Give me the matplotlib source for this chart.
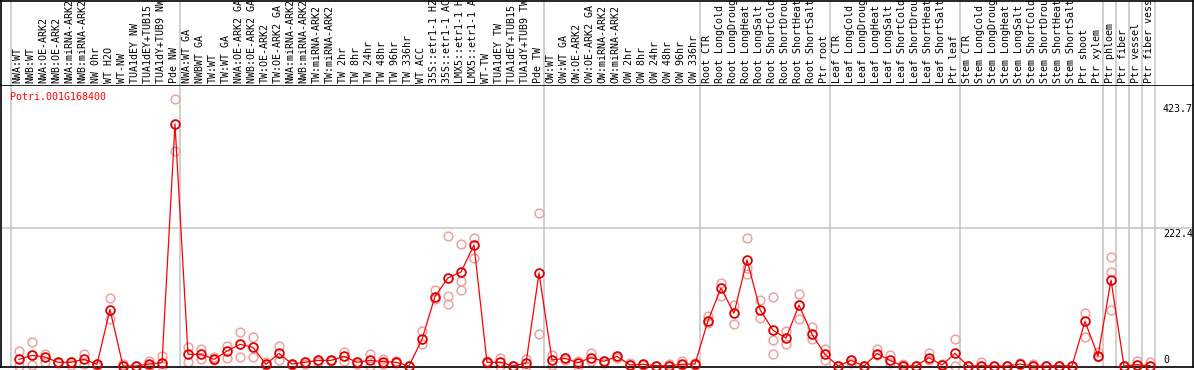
import matplotlib
matplotlib.use("Agg")
import matplotlib.pyplot as plt
import matplotlib.transforms as mtransforms

gene = "Potri.001G168400"

labels = [
    "NWA:WT", "NWB:WT", "NWA:OE-ARK2", "NWB:OE-ARK2", "NWA:miRNA-ARK2", "NWB:miRNA-ARK2",
    "NW 0hr", "WT H2O", "WT-NW", "TUA1dEY NW", "TUA1dEY+TUB15 NW", "TUA1dY+TUB9 NW", "Pde NW",
    "NWA:WT GA", "NWBWT GA", "TW:WT", "TW:WT GA", "NWA:OE-ARK2 GA", "NWB:OE-ARK2 GA",
    "TW:OE-ARK2", "TW:OE-ARK2 GA", "NWA:miRNA-ARK2", "NWB:miRNA-ARK2", "TW:miRNA-ARK2",
    "TW:miRNA-ARK2", "TW 2hr", "TW 8hr", "TW 24hr", "TW 48hr", "TW 96hr", "TW 336hr", "WT ACC",
    "35S::etr1-1 H2O", "35S::etr1-1 ACC", "LMX5::etr1-1 H2O", "LMX5::etr1-1 ACC", "WT-TW",
    "TUA1dEY TW", "TUA1dEY+TUB15 TW", "TUA1dY+TUB9 TW", "Pde TW",
    "OW:WT", "OW:WT GA", "OW:OE-ARK2", "OW:OE-ARK2 GA", "OW:miRNA-ARK2", "OW:miRNA-ARK2",
    "OW 2hr", "OW 8hr", "OW 24hr", "OW 48hr", "OW 96hr", "OW 336hr",
    "Root CTR", "Root LongCold", "Root LongDrought", "Root LongHeat", "Root LongSalt",
    "Root ShortCold", "Root ShortDrought", "Root ShortHeat", "Root ShortSalt", "Ptr root",
    "Leaf CTR", "Leaf LongCold", "Leaf LongDrought", "Leaf LongHeat", "Leaf LongSalt",
    "Leaf ShortCold", "Leaf ShortDrought", "Leaf ShortHeat", "Leaf ShortSalt", "Ptr leaf",
    "Stem CTR", "Stem LongCold", "Stem LongDrought", "Stem LongHeat", "Stem LongSalt",
    "Stem ShortCold", "Stem ShortDrought", "Stem ShortHeat", "Stem ShortSalt", "Ptr shoot",
    "Ptr xylem", "Ptr phloem", "Ptr fiber", "Ptr vessel", "Ptr fiber vessel",
]

means = [
    10.8, 17, 14.5, 6, 6, 10.8, 2.7, 91, 0, 0, 3.2, 5.3, 390,
    18.8, 18.8, 10.8, 24, 35, 30, 2.7, 20.4, 3.2, 6, 9, 9, 15.6, 6, 9, 7, 6, 0,
    43, 112, 142, 151.5, 195, 6, 6, 0.5, 4.3, 150,
    9.7, 12.4, 5.3, 13.4, 7.5, 15.6, 1.6, 2.7, 0.5, 0.5, 2.7, 3.2,
    73, 125.7, 85, 171, 91, 57.5, 45, 98, 51, 18.8,
    0, 9, 0, 20, 9, 0, 0, 13.4, 1.6, 20.4,
    0, 0.5, 0, 0, 3.2, 0, 0, 0.5, 0, 72, 16,
    138.6, 0, 2, 0.5,
]

replicates = [
    [24, 0.5], [38, 1, 17], [20, 7], [6, 5], [1.6, 6], [19, 2.7], [3, 0], [109, 75], [3, 0], [0, 0],
    [8.5, 0], [16, 0], [431, 346],
    [30, 7], [28, 10.8], [14, 10], [33, 12.4], [55, 14.5], [47, 14.5], [7, 2], [33, 9.7], [3, 2],
    [6, 4], [9, 7], [9, 8], [23, 8], [4, 6], [20, 0.5], [11, 3], [8, 5], [0, 0],
    [56, 35], [122.5, 107.5], [209.5, 113, 99.4], [196, 136.5, 122], [206, 173.5], [8, 5],
    [12.4, 0], [0.5, 0], [11, 0], [246, 51],
    [17.7, 2], [12.4, 10], [8, 0], [21.4, 8], [7.5, 5], [15.6, 13], [5, 1], [2.7, 1], [0.5, 0],
    [3, 0], [8.5, 2], [5, 2],
    [80.6, 70], [134, 113], [98, 67], [206, 157.5, 149], [106, 77], [110.7, 41.4, 18.8],
    [56, 35.5], [116, 75, 98], [63, 44], [28, 9],
    [0, 0], [5, 9], [0, 0], [27, 17], [17.7, 5], [3, 0], [0, 0], [20.4, 10], [4, 1], [43.5, 0],
    [0, 0], [6, 0.5], [0, 0], [0, 0], [5, 3], [3, 0], [0, 0], [0.5, 0], [0, 0],
    [85, 47], [23, 14], [175, 151, 90], [0, 0], [8.5, 2], [6, 0.5],
]

group_starts = [0, 13, 41, 53, 63, 73, 84, 85, 86, 87, 88]
ytick_vals = [423.7, 222.4, 0]
ytick_texts = ["423.7", "222.4", "0"]
grid_vals = [222.4]
max_label_chars = 14

W, H = 1194, 370
fig = plt.figure(figsize=(W / 100, H / 100), dpi=100)
fig.patch.set_facecolor("white")

mono = "DejaVu Sans Mono"
fs = 7.2

ax_l, ax_r = 1, 1193
plot_top, plot_bot = 85, 367
ax = fig.add_axes([ax_l / W, (H - plot_bot) / H, (ax_r - ax_l) / W, (plot_bot - plot_top) / H])
axl = fig.add_axes([ax_l / W, (H - plot_top) / H, (ax_r - ax_l) / W, (plot_top - 0.5) / H])

px_per_x = 13.0
x0_px = 19.0
xmin = -(x0_px - ax_l) / px_per_x
xmax = xmin + (ax_r - ax_l) / px_per_x
s = 0.6205
ymin = -1.0 / s
ymax = ymin + (plot_bot - plot_top) / s

for a in (ax, axl):
    a.set_xlim(xmin, xmax)
    a.set_xticks([])
    a.set_yticks([])
    for sp in a.spines.values():
        sp.set_color("black")
        sp.set_linewidth(1.2)
ax.set_ylim(ymin, ymax)
axl.set_ylim(0, 1)
axl.spines["bottom"].set_visible(False)

for b in group_starts:
    xv = b - 0.62
    ax.axvline(xv, color="#c8c8c8", lw=1.2, zorder=1)
    axl.axvline(xv, color="#c8c8c8", lw=1.2, zorder=1)

for g in grid_vals:
    ax.axhline(g, color="#c8c8c8", lw=1.2, zorder=1)

xs = list(range(len(means)))

for i, reps in enumerate(replicates):
    ax.plot([i] * len(reps), reps, linestyle="none", marker="o", ms=6.3, mfc="none",
            mec="#f0a0a0", mew=1.1, zorder=2, clip_on=False)

ax.plot(xs, means, color="#ff0000", lw=0.9, zorder=3)
ax.plot(xs, means, linestyle="none", marker="o", ms=6.3, mfc="none", mec="#e00000",
        mew=1.3, zorder=4, clip_on=False)

for i, lab in enumerate(labels):
    axl.text(i - 0.1, 0.02, lab[:max_label_chars], rotation=90, ha="center", va="bottom",
             fontsize=fs, family=mono, color="black", clip_on=True)

ax.text(9 / (ax_r - ax_l), 1 - (97 - plot_top) / (plot_bot - plot_top), gene,
        transform=ax.transAxes, ha="left", va="center", fontsize=fs, family=mono, color="#ff0000")

trans = mtransforms.blended_transform_factory(ax.transAxes, ax.transData)
tx = (1163 - ax_l) / (ax_r - ax_l)
for v, t in zip(ytick_vals, ytick_texts):
    if v == 0:
        ax.text(tx, v + 1.5, t, transform=trans, ha="left", va="bottom", fontsize=fs,
                family=mono, color="black")
    else:
        ax.text(tx, v - 1.0, t, transform=trans, ha="left", va="top", fontsize=fs,
                family=mono, color="black")

fig.savefig("out.png", dpi=100, facecolor="white")
